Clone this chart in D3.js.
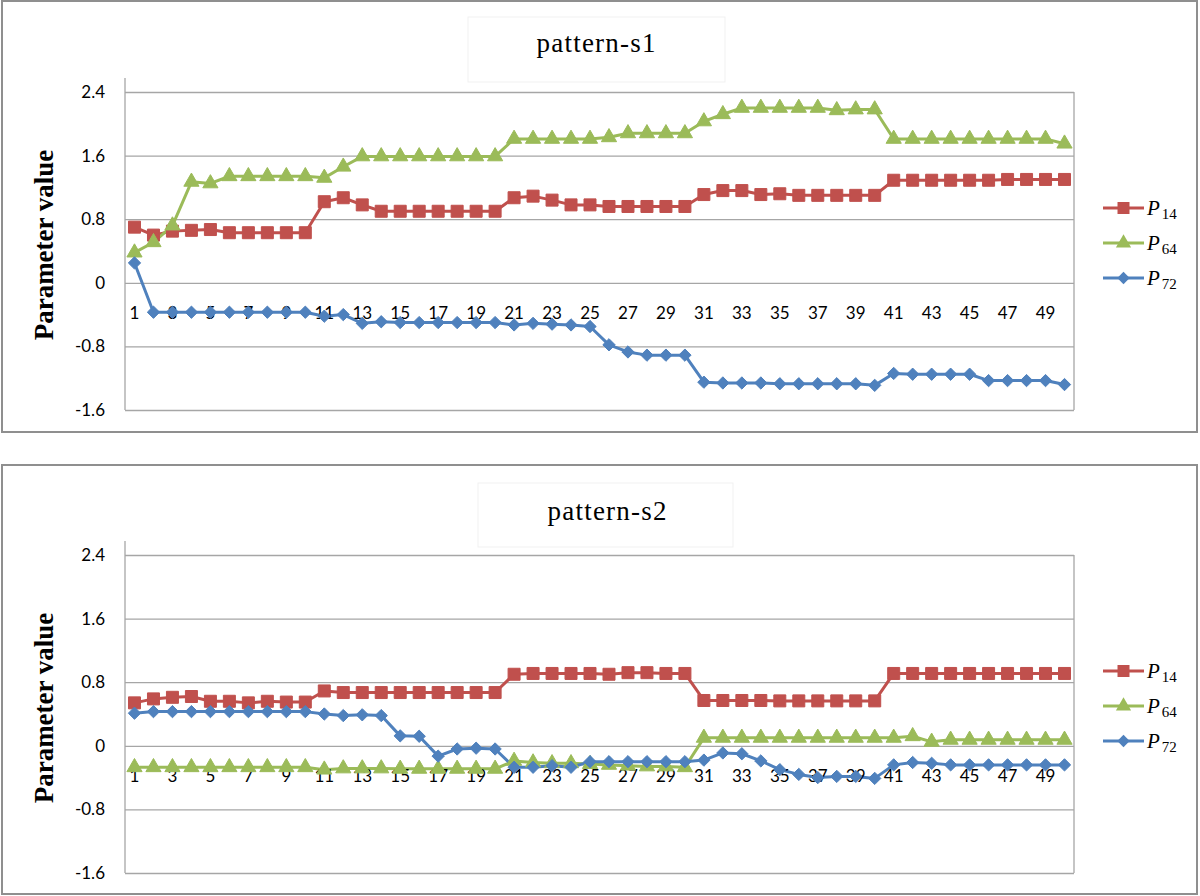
<!DOCTYPE html>
<html><head><meta charset="utf-8">
<script src="https://cdn.jsdelivr.net/npm/d3@7"></script>
<style>
html,body{margin:0;padding:0;background:#fff;}
svg{display:block;}
</style>
</head><body>
<svg id="chart" width="1200" height="896"></svg>
<script>
// ---------- data ----------
const categories = [1,2,3,4,5,6,7,8,9,10,11,12,13,14,15,16,17,18,19,20,21,22,23,24,25,26,27,28,29,30,31,32,33,34,35,36,37,38,39,40,41,42,43,44,45,46,47,48,49,50];
const xTickLabels = ["1","3","5","7","9","11","13","15","17","19","21","23","25","27","29","31","33","35","37","39","41","43","45","47","49"];
const yTicks = [-1.6,-0.8,0,0.8,1.6,2.4];
const yTickLabels = ["-1.6","-0.8","0","0.8","1.6","2.4"];
const seriesNames = ["14","64","72"];
const panelTitles = ["pattern-s1","pattern-s2"];
const yAxisTitle = "Parameter value";

const s1_P14 = [0.70,0.60,0.65,0.66,0.67,0.63,0.63,0.63,0.63,0.63,
                1.02,1.07,0.98,0.90,0.90,0.90,0.90,0.90,0.90,0.90,
                1.07,1.09,1.04,0.98,0.98,0.96,0.96,0.96,0.96,0.96,
                1.11,1.16,1.16,1.11,1.12,1.10,1.10,1.10,1.10,1.10,
                1.29,1.29,1.29,1.29,1.29,1.29,1.30,1.30,1.30,1.30];
const s1_P64 = [0.38,0.51,0.72,1.27,1.25,1.34,1.34,1.34,1.34,1.34,
                1.32,1.46,1.59,1.59,1.59,1.59,1.59,1.59,1.59,1.59,
                1.81,1.81,1.81,1.81,1.81,1.83,1.88,1.88,1.88,1.88,
                2.03,2.12,2.20,2.20,2.20,2.20,2.20,2.17,2.18,2.18,
                1.81,1.81,1.81,1.81,1.81,1.81,1.81,1.81,1.81,1.75];
const s1_P72 = [0.25,-0.37,-0.37,-0.37,-0.37,-0.37,-0.37,-0.37,-0.37,-0.37,
                -0.42,-0.40,-0.51,-0.49,-0.50,-0.50,-0.50,-0.50,-0.50,-0.50,
                -0.53,-0.51,-0.52,-0.53,-0.55,-0.78,-0.87,-0.91,-0.91,-0.91,
                -1.25,-1.26,-1.26,-1.26,-1.27,-1.27,-1.27,-1.27,-1.27,-1.29,
                -1.14,-1.15,-1.15,-1.15,-1.15,-1.23,-1.23,-1.23,-1.23,-1.28];

const s2_P14 = [0.54,0.59,0.61,0.62,0.56,0.56,0.54,0.56,0.55,0.55,
                0.69,0.67,0.67,0.67,0.67,0.67,0.67,0.67,0.67,0.67,
                0.90,0.91,0.91,0.91,0.91,0.90,0.92,0.92,0.91,0.91,
                0.57,0.57,0.57,0.57,0.565,0.565,0.565,0.565,0.565,0.565,
                0.91,0.91,0.91,0.91,0.91,0.91,0.91,0.91,0.91,0.91];
const s2_P64 = [-0.27,-0.27,-0.27,-0.27,-0.27,-0.27,-0.27,-0.27,-0.27,-0.27,
                -0.30,-0.285,-0.285,-0.285,-0.29,-0.29,-0.29,-0.29,-0.29,-0.29,
                -0.19,-0.21,-0.22,-0.22,-0.23,-0.24,-0.25,-0.26,-0.26,-0.27,
                0.10,0.10,0.10,0.10,0.10,0.10,0.10,0.10,0.10,0.10,
                0.10,0.12,0.05,0.075,0.075,0.075,0.075,0.075,0.075,0.075];
const s2_P72 = [0.41,0.43,0.43,0.43,0.43,0.43,0.43,0.43,0.43,0.43,
                0.40,0.38,0.39,0.38,0.125,0.12,-0.13,-0.04,-0.03,-0.04,
                -0.27,-0.27,-0.25,-0.27,-0.20,-0.20,-0.20,-0.20,-0.20,-0.20,
                -0.18,-0.09,-0.10,-0.19,-0.30,-0.36,-0.40,-0.385,-0.385,-0.41,
                -0.24,-0.21,-0.22,-0.24,-0.24,-0.24,-0.24,-0.24,-0.24,-0.24];

const colors = ["#C0504D","#9BBB59","#4F81BD"];
// square-shaped diamond (rotated square), like Excel's diamond marker
const squareDiamond = {draw(ctx,size){const r=Math.sqrt(size/2);
  ctx.moveTo(0,-r);ctx.lineTo(r,0);ctx.lineTo(0,r);ctx.lineTo(-r,0);ctx.closePath();}};
const markerTypes = [d3.symbolSquare, d3.symbolTriangle, squareDiamond];
const markerSizes = [144, 100, 76];

// ---------- drawing ----------
const svg = d3.select("#chart");

function drawPanel(cfg){
  const g = svg.append("g");
  g.append("rect").attr("x",cfg.frame[0]).attr("y",cfg.frame[1])
    .attr("width",cfg.frame[2]).attr("height",cfg.frame[3])
    .attr("fill","#fff").attr("stroke","#8f8f8f").attr("stroke-width",2);
  g.append("rect").attr("x",cfg.tbox[0]).attr("y",cfg.tbox[1])
    .attr("width",cfg.tbox[2]).attr("height",cfg.tbox[3])
    .attr("fill","#fff").attr("stroke","#f1f1f1").attr("stroke-width",1);
  g.append("text").attr("x",cfg.titleX).attr("y",cfg.titleY)
    .attr("text-anchor","middle")
    .attr("font-family","'Liberation Serif','Times New Roman',serif")
    .attr("font-size",27).attr("textLength",119).attr("lengthAdjust","spacing")
    .attr("fill","#000").text(cfg.title);

  const x = d3.scaleBand().domain(categories).range([cfg.left,cfg.right]);
  const y = d3.scaleLinear().domain([-1.6,2.4]).range([cfg.bottom,cfg.top]);

  const grid = g.append("g").attr("transform",`translate(${cfg.left},0)`)
    .call(d3.axisLeft(y).tickValues(yTicks).tickSize(-(cfg.right-cfg.left)).tickFormat(""));
  grid.select(".domain").remove();
  grid.selectAll("line").attr("stroke","#a6a6a6").attr("stroke-width",1.3);
  g.append("line").attr("x1",cfg.right).attr("x2",cfg.right)
    .attr("y1",y(2.4)).attr("y2",y(-1.6)).attr("stroke","#a6a6a6").attr("stroke-width",1.3);
  const ya = g.append("g").attr("transform",`translate(${cfg.left},0)`)
    .call(d3.axisLeft(y).tickValues(yTicks).tickSize(0).tickPadding(20)
      .tickFormat((d,i)=>yTickLabels[i]));
  ya.select(".domain").remove();
  ya.selectAll("text").attr("font-family","Lato, 'Open Sans', sans-serif")
    .attr("font-size",17).attr("fill","#000");
  g.append("line").attr("x1",cfg.left).attr("x2",cfg.left)
    .attr("y1",y(2.4)-14).attr("y2",y(-1.6)).attr("stroke","#a6a6a6").attr("stroke-width",1.3);

  g.append("text")
    .attr("transform",`translate(53,${(y(2.4)+y(-1.6))/2-6}) rotate(-90)`)
    .attr("text-anchor","middle")
    .attr("font-family","'Liberation Serif','Times New Roman',serif")
    .attr("font-weight","bold").attr("font-size",27).attr("fill","#000")
    .text(yAxisTitle);

  cfg.series.forEach((vals,si)=>{
    const line = d3.line().x((d,i)=>x(categories[i])+x.bandwidth()/2).y(d=>y(d));
    g.append("path").datum(vals).attr("d",line).attr("fill","none")
      .attr("stroke",colors[si]).attr("stroke-width",3).attr("stroke-linejoin","round");
  });

  const xa = g.append("g").attr("transform",`translate(0,${y(0)})`)
    .call(d3.axisBottom(x).tickValues(categories.filter(c=>xTickLabels.includes(String(c)))).tickSize(0));
  xa.select(".domain").remove();
  xa.selectAll("text").attr("y",36).attr("dy",null)
    .attr("font-family","Lato, 'Open Sans', sans-serif")
    .attr("font-size",17).attr("fill","#000");

  cfg.series.forEach((vals,si)=>{
    const sym = d3.symbol().type(markerTypes[si]).size(markerSizes[si]);
    g.append("g").selectAll("path").data(vals).join("path")
      .attr("d",sym)
      .attr("transform",(d,i)=>`translate(${x(categories[i])+x.bandwidth()/2},${y(d)})`)
      .attr("fill",colors[si]).attr("stroke",colors[si]).attr("stroke-width",1);
  });

  const lg = g.append("g");
  seriesNames.forEach((nm,si)=>{
    const ly = cfg.legendY + si*35;
    lg.append("line").attr("x1",1103).attr("x2",1144).attr("y1",ly).attr("y2",ly)
      .attr("stroke",colors[si]).attr("stroke-width",3);
    lg.append("path").attr("d",d3.symbol().type(markerTypes[si]).size(markerSizes[si])())
      .attr("transform",`translate(1123.5,${ly})`).attr("fill",colors[si]);
    const t = lg.append("text").attr("x",1147).attr("y",ly+7)
      .attr("font-family","'Liberation Serif','Times New Roman',serif").attr("fill","#000");
    t.append("tspan").attr("font-style","italic").attr("font-size",21).text("P");
    t.append("tspan").attr("font-size",15).attr("dy",4).attr("dx",2).text(nm);
  });
}

drawPanel({frame:[2,1,1195,431], tbox:[468,17,257,65], title:panelTitles[0], titleX:596, titleY:52,
  left:125,right:1074,top:92,bottom:410,legendY:208, series:[s1_P14,s1_P64,s1_P72]});
drawPanel({frame:[2,465,1195,429], tbox:[478,483,255,64], title:panelTitles[1], titleX:607, titleY:520,
  left:125,right:1074,top:555,bottom:873,legendY:671, series:[s2_P14,s2_P64,s2_P72]});
</script>
</body></html>
